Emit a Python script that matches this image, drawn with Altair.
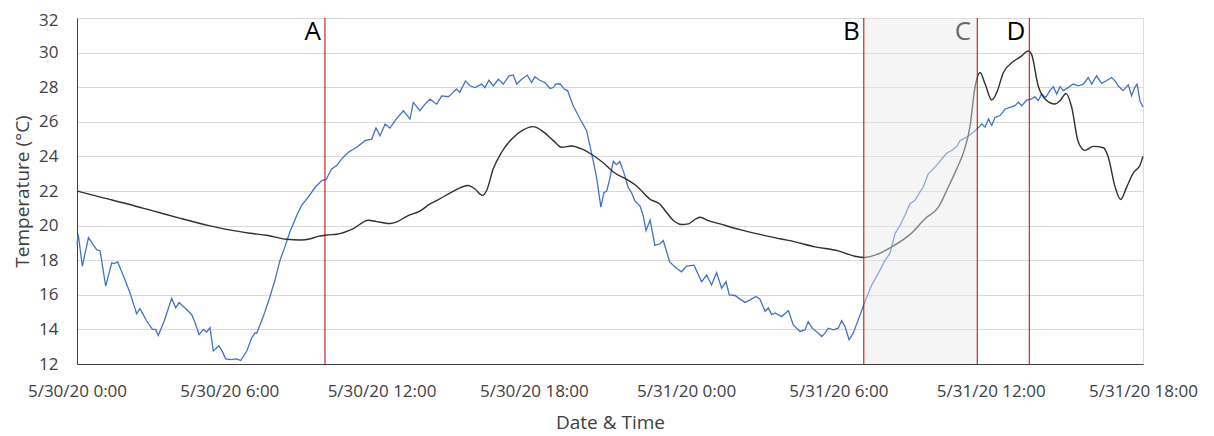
import json
import altair as alt
import pandas as pd

# ---- data (hours since 5/30/20 0:00, temperature °C) ----
blue_hours = [0.0, 0.05, 0.21, 0.45, 0.78, 0.91, 1.13, 1.37, 1.47, 1.60, 1.80, 2.09, 2.35, 2.48, 2.74, 2.97, 3.10, 3.20, 3.44, 3.73, 3.89, 4.02, 4.32, 4.52, 4.65, 4.81, 4.98, 5.11, 5.24, 5.37, 5.59, 5.70, 5.86, 6.03, 6.29, 6.45, 6.69, 6.88, 7.01,
              7.08, 7.34, 7.60, 7.80, 8.0, 8.19, 8.39, 8.66, 8.85, 9.11, 9.38, 9.64, 9.81, 10.03, 10.23, 10.43, 10.69, 11.02, 11.35, 11.61, 11.78, 11.94, 12.14, 12.33, 12.53, 12.86, 13.12, 13.25, 13.51, 13.71, 13.91,
              14.17, 14.37, 14.63, 14.75, 14.95, 15.08, 15.31, 15.48, 15.68, 15.94, 16.07, 16.23, 16.4, 16.6, 16.8, 17.02, 17.19, 17.32, 17.52, 17.74, 17.91, 18.04, 18.23, 18.43, 18.64, 18.77, 18.86, 19.03, 19.2, 19.33, 19.55, 19.82, 20.08, 20.28, 20.47, 20.64,
              20.76, 20.87, 20.97, 21.13, 21.26, 21.39, 21.55, 21.72, 21.85, 21.98, 22.18, 22.31, 22.42, 22.58, 22.77, 22.97, 23.1, 23.35, 23.63, 23.82, 24.02, 24.31, 24.61, 24.81, 25.0, 25.2, 25.4, 25.57, 25.7, 25.93, 26.12, 26.32, 26.52, 26.75, 26.91, 27.11, 27.24, 27.37, 27.5,
              27.76, 28.03, 28.22, 28.49, 28.68, 28.81, 28.97, 29.21, 29.34, 29.47, 29.6, 29.8, 29.99, 30.13, 30.26, 30.42, 30.58, 30.78, 31.02, 31.31, 31.57, 31.84, 32.03, 32.23, 32.43, 32.62, 32.82, 33.02, 33.21, 33.34, 33.54, 33.74, 33.94, 34.13, 34.26, 34.46, 34.66, 34.79,
              35.05, 35.32, 35.51, 35.65, 35.78, 35.91, 36.04, 36.17, 36.37, 36.57, 36.76, 36.96, 37.09, 37.22, 37.42, 37.61, 37.74, 37.87, 38.0, 38.17, 38.33, 38.47, 38.6, 38.73, 38.86, 39.06, 39.25, 39.45, 39.65, 39.84, 39.98, 40.17, 40.37, 40.56, 40.76, 40.9, 41.02, 41.22, 41.42, 41.55, 41.68, 41.77, 41.88, 42.0]
blue_temps = [18.9, 19.5, 17.65, 19.3, 18.6, 18.55, 16.5, 17.85, 17.8, 17.9, 17.2, 16.1, 14.9, 15.2, 14.5, 14.0, 14.0, 13.65, 14.5, 15.8, 15.25, 15.55, 15.15, 14.85, 14.4, 13.7, 14.0, 13.85, 14.1, 12.75, 13.05, 12.8, 12.3, 12.25, 12.3, 12.2, 12.75, 13.5, 13.8,
              13.78, 14.74, 15.89, 16.85, 18.0, 18.77, 19.64, 20.6, 21.17, 21.65, 22.2, 22.6, 22.65, 23.28, 23.47, 23.86, 24.24, 24.53, 24.91, 25.0, 25.64, 25.2, 25.87, 25.64, 26.07, 26.64, 26.16, 27.12, 26.64, 27.02, 27.31,
              27.02, 27.5, 27.45, 27.6, 27.9, 27.7, 28.37, 28.08, 27.98, 28.18, 27.98, 28.4, 28.08, 28.46, 28.18, 28.66, 28.71, 28.18, 28.46, 28.7, 28.27, 28.6, 28.4, 28.27, 27.93, 27.98, 28.18, 28.2, 27.89, 27.79, 26.93, 26.16, 25.49, 24.15, 22.8, 21.07,
              21.9, 22.0, 22.57, 23.71, 23.52, 23.71, 23.05, 22.19, 21.9, 21.43, 21.14, 20.57, 19.71, 20.32, 18.86, 18.95, 19.14, 17.9, 17.52, 17.33, 17.66, 17.71, 16.76, 17.14, 16.57, 17.28, 16.38, 16.76, 16.0, 15.96, 15.75, 15.56, 15.71, 15.9, 15.75, 15.05, 15.24, 14.86, 14.95,
              14.74, 15.09, 14.26, 13.88, 13.97, 14.45, 14.07, 13.78, 13.59, 13.78, 14.07, 13.97, 14.07, 14.51, 14.17, 13.4, 13.78, 14.55, 15.51, 16.56, 17.24, 18.0, 18.39, 19.54, 20.02, 20.6, 21.27, 21.46, 21.94, 22.23, 22.99, 23.28, 23.61, 23.95, 24.18, 24.34, 24.57, 24.91,
              25.11, 25.4, 25.65, 25.88, 25.69, 26.17, 25.79, 26.26, 26.36, 26.74, 26.84, 26.93, 27.13, 26.93, 27.26, 27.32, 27.45, 27.22, 27.6, 27.41, 27.8, 28.03, 27.6, 28.03, 27.8, 27.99, 28.18, 28.08, 28.18, 28.56, 28.18, 28.66, 28.22, 28.37, 28.56, 28.37, 28.08, 27.8, 28.14, 27.51, 27.99, 28.18, 27.22, 26.85]

black_hours = [0, 1.0, 2.0, 3.0, 4.0, 5.2, 6.0, 6.82, 7.47, 8.26, 8.79, 9.2, 9.5, 9.84, 10.23, 10.89, 11.48, 11.80, 12.33, 12.6, 12.99, 13.51, 13.91, 14.24, 14.76, 15.41, 15.67, 15.97, 16.14, 16.4, 16.73, 17.13, 17.58, 17.98, 18.31, 18.77, 19.09, 19.49, 19.88, 20.34, 20.8,
               21.13, 21.66, 22.05, 22.58, 22.97, 23.23, 23.5, 23.82, 24.09, 24.31, 24.55, 24.87, 25.33, 26.12, 26.91, 27.7, 28.29, 29.08, 29.99, 30.65, 31.02, 31.44, 32.1, 32.89, 33.41, 33.94, 34.33, 34.66, 34.92, 35.18, 35.38, 35.58, 35.78, 36.04, 36.24, 36.5, 36.89,
               37.22, 37.48, 37.61, 37.87, 38.14, 38.53, 38.73, 38.97, 39.19, 39.45, 39.71, 40.04, 40.44, 40.63, 40.9, 41.12, 41.36, 41.62, 41.88, 42.0]
black_temps = [22.0, 21.62, 21.25, 20.85, 20.45, 20.0, 19.75, 19.56, 19.44, 19.21, 19.17, 19.24, 19.38, 19.46, 19.5, 19.83, 20.31, 20.23, 20.12, 20.21, 20.54, 20.84, 21.25, 21.5, 21.94, 22.32, 22.13, 21.75, 22.03, 23.28, 24.24, 25.01, 25.53, 25.72, 25.49, 24.91, 24.53, 24.6, 24.43, 24.05, 23.55,
               23.1, 22.67, 22.29, 21.52, 21.24, 20.76, 20.29, 20.06, 20.1, 20.32, 20.48, 20.29, 20.1, 19.77, 19.49, 19.24, 19.06, 18.77, 18.54, 18.23, 18.16, 18.29, 18.77, 19.58, 20.4, 21.07, 22.23, 23.28, 24.2, 25.69, 27.99, 28.85, 28.18, 27.26, 27.7, 28.85, 29.48,
               29.81, 30.1, 29.9, 28.08, 27.32, 27.03, 27.22, 27.64, 26.84, 24.83, 24.35, 24.58, 24.5, 23.97, 22.24, 21.51, 22.24, 23.05, 23.49, 24.0]

event_labels = ["A", "B", "C", "D"]
event_hours = [9.77, 31.0, 35.47, 37.52]
shade_start = 31.0
shade_end = 35.47
label_temp = 30.72
y_min, y_max = 12, 32

tick_hours = [0, 6, 12, 18, 24, 30, 36, 42]
tick_labels = ["5/30/20 0:00", "5/30/20 6:00", "5/30/20 12:00", "5/30/20 18:00",
               "5/31/20 0:00", "5/31/20 6:00", "5/31/20 12:00", "5/31/20 18:00"]
y_ticks = [12, 14, 16, 18, 20, 22, 24, 26, 28, 30, 32]

blue_df = pd.DataFrame({"h": blue_hours, "t": blue_temps})
black_df = pd.DataFrame({"h": black_hours, "t": black_temps})
ev_df = pd.DataFrame({"h": event_hours, "label": event_labels})
shade_df = pd.DataFrame({"h": [shade_start], "h2": [shade_end]})

FONT = "Open Sans"
TXT = "#404040"

label_expr = json.dumps(tick_labels) + "[round(datum.value/6)]"
xscale = alt.Scale(domain=[0, 42], nice=False, zero=False)
yscale = alt.Scale(domain=[y_min, y_max], nice=False, zero=False)
xaxis = alt.Axis(values=tick_hours, labelExpr=label_expr, title="Date & Time", grid=False,
                 ticks=False, tickSize=0, domainColor="#404040", labelPadding=19,
                 labelFont=FONT, labelFontSize=17, labelColor=TXT, labelFlush=False,
                 labelOverlap=False, titleFont=FONT, titleFontSize=19, titleColor=TXT,
                 titleFontWeight="normal", titlePadding=14)
yaxis = alt.Axis(values=y_ticks, title="Temperature (°C)", grid=True, gridColor="#d9d9d9",
                 ticks=False, tickSize=0, domainColor="#404040", labelPadding=19,
                 labelFont=FONT, labelFontSize=17, labelColor=TXT, labelOverlap=False,
                 labelFlush=False,
                 labelOffset={"condition": {"test": "datum.value == 32", "value": 2}, "value": 0},
                 titleFont=FONT, titleFontSize=19, titleColor=TXT,
                 titleFontWeight="normal", titlePadding=6)

X = lambda f: alt.X(f, type="quantitative", scale=xscale, axis=xaxis)
Y = lambda f: alt.Y(f, type="quantitative", scale=yscale, axis=yaxis)
YD = lambda v: alt.YDatum(v, type="quantitative", scale=yscale, axis=yaxis)

blue = alt.Chart(blue_df).mark_line(color="#4472c4", strokeWidth=1.3).encode(x=X("h"), y=Y("t"))
black = alt.Chart(black_df).mark_line(color="#303030", strokeWidth=1.4, interpolate="monotone").encode(x=X("h"), y=Y("t"))

text_under = alt.Chart(ev_df).transform_filter(alt.datum.label == "C").mark_text(
    font=FONT, fontSize=26, color="#000000", align="right", baseline="alphabetic", dx=-6
).encode(x=X("h"), y=YD(label_temp), text="label:N")

shade = alt.Chart(shade_df).mark_rect(color="#e8e8e8", opacity=0.45).encode(
    x=X("h"), x2="h2", y=YD(y_min), y2=alt.Y2Datum(y_max))

rules = alt.Chart(ev_df).mark_rule(color="#c00000", strokeWidth=1).encode(
    x=X("h"), y=YD(y_min), y2=alt.Y2Datum(y_max))

text_over = alt.Chart(ev_df).transform_filter(alt.datum.label != "C").mark_text(
    font=FONT, fontSize=26, color="#000000", align="right", baseline="alphabetic", dx=-4
).encode(x=X("h"), y=YD(label_temp), text="label:N")

chart = alt.layer(blue, black, text_under, shade, rules, text_over).properties(
    width=1066, height=346,
    autosize=alt.AutoSizeParams(type="none"),
    padding={"left": 69, "top": 10, "right": 62, "bottom": 72},
).configure_view(stroke=None).configure(background="white")

chart.save("out.html", embed_options={"renderer": "svg", "actions": False})
